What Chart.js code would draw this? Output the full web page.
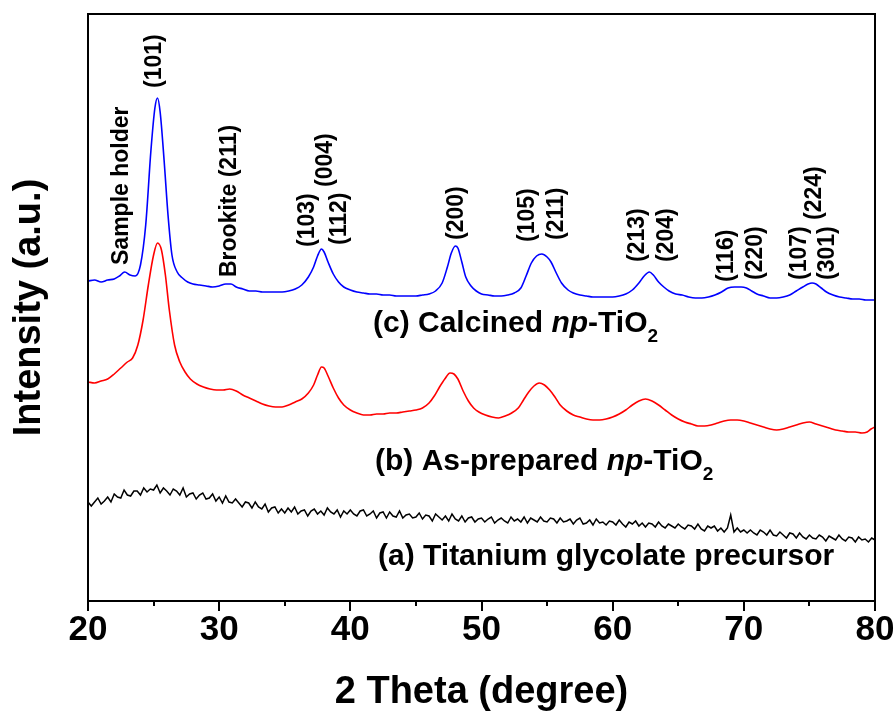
<!DOCTYPE html>
<html>
<head>
<meta charset="utf-8">
<script src="https://cdn.jsdelivr.net/npm/chart.js@4.4.0/dist/chart.umd.min.js"></script>
<style>
  html, body { margin: 0; padding: 0; background: #fff; }
  #wrap { width: 896px; height: 716px; }
</style>
</head>
<body>
<div id="wrap"><canvas id="myChart" width="896" height="716"></canvas></div>
<script>
// (c) Calcined np-TiO2 - 2theta / intensity (a.u., offset)
var thetaC = [20.0,20.5,21.0,21.5,22.0,22.4,22.8,23.2,23.6,24.0,24.4,24.8,25.1,25.3,25.5,25.8,26.1,26.4,26.8,27.2,27.6,28.0,28.5,29.0,29.5,30.0,30.5,30.9,31.3,31.8,32.3,32.8,33.3,33.8,34.3,34.8,35.3,35.8,36.3,36.8,37.2,37.5,37.8,38.0,38.3,38.7,39.1,39.5,40.0,40.5,41.0,41.5,42.0,42.5,43.0,43.5,44.0,44.5,45.0,45.5,46.0,46.5,47.0,47.4,47.7,48.0,48.2,48.5,48.8,49.2,49.6,50.0,50.5,51.0,51.5,52.0,52.5,53.0,53.4,53.8,54.2,54.6,55.0,55.3,55.7,56.1,56.6,57.0,57.5,58.0,58.5,59.0,59.5,60.0,60.5,61.0,61.5,62.0,62.4,62.8,63.1,63.5,63.9,64.3,64.8,65.3,65.8,66.3,66.8,67.3,67.8,68.3,68.8,69.3,69.8,70.2,70.6,71.0,71.5,72.0,72.5,73.0,73.5,74.0,74.5,74.9,75.2,75.5,75.9,76.3,76.8,77.3,77.8,78.3,78.8,79.3,80.0];
var intensityC = [320,321,319,321,322,325,329,326,325,336,376,451,493,503,489,441,386,346,329,323,319,317,316,315,314,315,317,317,314,312,310,310,309,309,309,309,310,312,316,324,334,345,352,349,339,327,319,314,311,309,308,307,307,306,306,305,305,305,305,306,307,310,318,334,348,355,353,339,324,315,310,307,306,305,305,306,308,313,325,338,345,347,344,339,328,318,311,308,306,305,304,304,304,304,305,307,311,318,325,329,326,319,314,310,307,306,304,303,303,304,306,309,313,314,314,313,310,307,305,303,303,304,306,310,314,317,318,317,313,309,306,304,303,302,302,301,301];

// (b) As-prepared np-TiO2
var thetaB = [20.0,20.5,21.0,21.5,22.0,22.5,23.0,23.4,23.8,24.2,24.6,25.0,25.3,25.6,25.9,26.2,26.6,27.0,27.4,27.8,28.3,28.8,29.3,29.8,30.3,30.8,31.3,31.8,32.3,32.8,33.3,33.8,34.3,34.8,35.3,35.8,36.3,36.8,37.2,37.5,37.8,38.0,38.3,38.7,39.1,39.5,40.0,40.5,41.0,41.5,42.0,42.5,43.0,43.5,44.0,44.5,45.0,45.5,46.0,46.4,46.8,47.2,47.6,47.9,48.2,48.6,49.0,49.4,49.8,50.3,50.8,51.3,51.8,52.3,52.8,53.2,53.6,54.0,54.4,54.8,55.2,55.6,56.0,56.5,57.0,57.5,58.0,58.5,59.0,59.5,60.0,60.5,61.0,61.5,62.0,62.5,63.0,63.5,64.0,64.5,65.0,65.5,66.0,66.5,67.0,67.5,68.0,68.5,69.0,69.5,70.0,70.5,71.0,71.5,72.0,72.5,73.0,73.5,74.0,74.5,75.0,75.5,76.0,76.5,77.0,77.5,78.0,78.5,79.0,79.4,79.7,80.0];
var intensityB = [219,218,220,222,227,233,239,243,256,281,316,346,358,351,326,291,256,239,229,222,217,214,212,211,211,212,210,206,203,200,197,195,194,194,196,199,202,208,216,226,234,233,225,213,203,196,191,188,186,186,187,187,188,188,189,190,191,193,198,205,214,222,228,227,222,210,200,193,189,186,184,183,185,188,193,201,209,215,218,216,211,204,196,190,186,184,182,181,181,182,184,187,191,196,200,202,200,196,191,186,182,179,177,175,175,176,178,180,181,181,180,178,176,174,172,171,172,174,176,178,179,177,175,173,171,170,169,169,168,169,172,174];

// (a) Titanium glycolate precursor, sampled every 0.25 deg from 20 to 80
var thetaStartA = 20, thetaStepA = 0.25;
var intensityA = [
  99,95,99,103,97,100,104,99,107,104,103,111,106,105,110,110,106,113,109,112,
  111,116,108,113,110,106,112,110,106,113,104,107,108,102,106,108,102,103,107,100,
  104,98,105,99,98,102,98,94,99,98,93,99,94,92,97,89,93,94,88,92,
  88,93,89,94,87,90,91,85,90,92,87,90,86,93,89,87,91,84,90,87,
  91,87,85,90,91,85,87,90,83,88,89,83,89,85,84,90,83,86,87,83,
  84,88,82,86,85,80,87,84,81,85,80,87,82,80,85,79,83,84,79,82,
  83,79,82,84,78,81,83,80,78,84,80,82,79,84,78,83,81,79,84,80,
  79,83,82,78,83,79,80,82,77,81,83,77,78,81,76,82,78,79,76,80,
  79,76,81,77,74,79,77,80,75,78,74,78,77,74,79,75,73,77,75,73,
  77,74,72,76,75,72,77,72,70,75,73,75,70,73,69,73,86,69,73,69,
  71,68,71,68,66,71,69,66,71,66,65,69,66,63,68,67,63,68,64,62,
  66,63,62,66,64,60,65,63,61,66,62,60,64,63,59,64,61,62,59,63,
  61
];

var xTicks = [20, 30, 40, 50, 60, 70, 80];

// peak annotations (rotated), anchored at the lower end of the text
var peakLabels = ['Sample holder','(101)','Brookite (211)','(103)','(004)','(112)','(200)','(105)','(211)','(213)','(204)','(116)','(220)','(107)','(224)','(301)'];
var peakTheta = [22.59,25.11,30.83,36.77,38.14,39.21,48.13,53.54,55.75,61.93,64.14,68.72,70.93,74.28,75.43,76.42];
var peakLabelY = [336,513,324,354,414,356,361,359,361,339,339,319,321,321,381,321];

// curve labels
var curvePrefix = ['(a) Titanium glycolate precursor', '(b) As-prepared ', '(c) Calcined '];
var curveTheta = [42.11, 41.88, 41.73];
var curveY = [36, 131, 269];

function toXY(xs, ys) {
  return ys.map(function (v, i) { return { x: xs[i], y: v }; });
}
var thetaA = intensityA.map(function (v, i) { return thetaStartA + i * thetaStepA; });

var FONT = "'Liberation Sans', Arial, Helvetica, sans-serif";

var decorations = {
  id: 'decorations',
  afterDraw: function (chart) {
    var ctx = chart.ctx, a = chart.chartArea;
    var xs = chart.scales.x, ys = chart.scales.y;
    ctx.save();
    ctx.strokeStyle = '#000';
    ctx.lineWidth = 2;
    ctx.strokeRect(a.left, a.top, a.right - a.left, a.bottom - a.top);
    for (var t = 20; t <= 80; t += 5) {
      var px = Math.round(xs.getPixelForValue(t));
      var len = (t % 10 === 0) ? 10 : 5;
      ctx.beginPath();
      ctx.moveTo(px, a.bottom);
      ctx.lineTo(px, a.bottom + len);
      ctx.stroke();
    }

    ctx.fillStyle = '#000';
    ctx.font = 'bold 23px ' + FONT;
    ctx.textAlign = 'left';
    ctx.textBaseline = 'middle';
    peakLabels.forEach(function (txt, i) {
      ctx.save();
      ctx.translate(xs.getPixelForValue(peakTheta[i]), ys.getPixelForValue(peakLabelY[i]));
      ctx.rotate(-Math.PI / 2);
      ctx.fillText(txt, 0, 0);
      ctx.restore();
    });

    ctx.textBaseline = 'alphabetic';
    curvePrefix.forEach(function (txt, i) {
      var cx = xs.getPixelForValue(curveTheta[i]);
      var cy = ys.getPixelForValue(curveY[i]);
      var parts = [{ t: txt, f: 'bold 30px ' + FONT, dy: 0 }];
      if (i > 0) {
        parts.push({ t: 'np', f: 'italic bold 30px ' + FONT, dy: 0 });
        parts.push({ t: '-TiO', f: 'bold 30px ' + FONT, dy: 0 });
        parts.push({ t: '2', f: 'bold 19px ' + FONT, dy: 10 });
      }
      parts.forEach(function (p) {
        ctx.font = p.f;
        ctx.fillText(p.t, cx, cy + p.dy);
        cx += ctx.measureText(p.t).width;
      });
    });
    ctx.restore();
  }
};

var ctx = document.getElementById('myChart');
var chart = new Chart(ctx, {
  type: 'line',
  data: {
    datasets: [
      { label: '(a)', data: toXY(thetaA, intensityA), borderColor: '#000000', borderWidth: 1.5, tension: 0 },
      { label: '(b)', data: toXY(thetaB, intensityB), borderColor: '#ff0000', borderWidth: 1.6, cubicInterpolationMode: 'monotone' },
      { label: '(c)', data: toXY(thetaC, intensityC), borderColor: '#0000ff', borderWidth: 1.6, cubicInterpolationMode: 'monotone' }
    ]
  },
  options: {
    responsive: false,
    animation: false,
    events: [],
    elements: { point: { radius: 0 }, line: { fill: false } },
    layout: { padding: { top: 14, right: 21, left: 0, bottom: 0 } },
    plugins: { legend: { display: false }, tooltip: { enabled: false } },
    scales: {
      x: {
        type: 'linear',
        min: 20,
        max: 80,
        afterFit: function (s) { s.height = 115; s.paddingLeft = 0; s.paddingRight = 0; },
        afterBuildTicks: function (s) { s.ticks = xTicks.map(function (v) { return { value: v }; }); },
        grid: { display: false },
        border: { display: false },
        ticks: { color: '#000', font: { family: FONT, size: 35, weight: 'bold' }, padding: 0, maxRotation: 0 },
        title: { display: true, text: '2 Theta (degree)', color: '#000', font: { family: FONT, size: 38, weight: 'bold' }, padding: { top: 0, bottom: 1 } }
      },
      y: {
        min: 0,
        max: 587,
        afterFit: function (s) { s.width = 88; },
        grid: { display: false },
        border: { display: false },
        ticks: { display: false },
        title: { display: true, text: 'Intensity (a.u.)', color: '#000', font: { family: FONT, size: 38, weight: 'bold' }, padding: { top: 7, bottom: 0 } }
      }
    }
  },
  plugins: [decorations]
});
</script>
</body>
</html>
